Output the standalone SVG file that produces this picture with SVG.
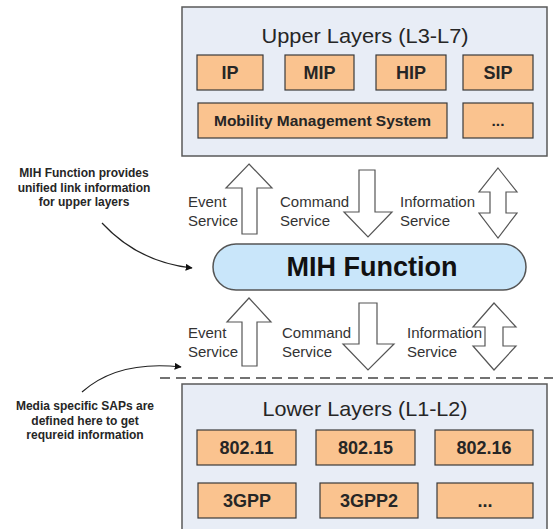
<svg xmlns="http://www.w3.org/2000/svg" width="553" height="529" viewBox="0 0 553 529">
<style>
.layer{fill:#e8edf6;stroke:#595959;stroke-width:1.5}
.blk{fill:#fac38f;stroke:#3a3a3a;stroke-width:1.2}
.bt{font-family:"Liberation Sans",Arial,sans-serif;font-weight:bold;font-size:18px;fill:#262626;text-anchor:middle}
.bts{font-family:"Liberation Sans",Arial,sans-serif;font-weight:bold;font-size:15.5px;fill:#262626;text-anchor:middle}
.title{font-family:"Liberation Sans",Arial,sans-serif;font-size:21px;fill:#262626;text-anchor:middle}
.svc{font-family:"Liberation Sans",Arial,sans-serif;font-size:15px;fill:#333}
.note{font-family:"Liberation Sans",Arial,sans-serif;font-weight:bold;font-size:12px;fill:#262626;text-anchor:middle}
.arr{fill:#fff;stroke:#555;stroke-width:1.2;stroke-linejoin:miter}
.curve{fill:none;stroke:#222;stroke-width:1.2}
</style>
<defs>
<marker id="ah" viewBox="0 0 10 10" refX="9" refY="5" markerWidth="7" markerHeight="7" orient="auto" markerUnits="userSpaceOnUse">
<path d="M0,0 L10,5 L0,10 Z" fill="#111"/>
</marker>
</defs>

<g id="upper-layers">
<rect class="layer" x="182" y="7" width="365" height="149"/>
<text class="title" x="365" y="43" textLength="207" lengthAdjust="spacingAndGlyphs">Upper Layers (L3-L7)</text>
<g id="ip"><rect class="blk" x="197" y="55" width="66" height="35"/><text class="bt" x="230" y="79">IP</text></g>
<g id="mip"><rect class="blk" x="285" y="55" width="69" height="35"/><text class="bt" x="319.5" y="79">MIP</text></g>
<g id="hip"><rect class="blk" x="376" y="55" width="70" height="35"/><text class="bt" x="411" y="79">HIP</text></g>
<g id="sip"><rect class="blk" x="463" y="55" width="70" height="35"/><text class="bt" x="498" y="79">SIP</text></g>
<g id="mms"><rect class="blk" x="198" y="103" width="249" height="35"/><text class="bts" x="322.5" y="126">Mobility Management System</text></g>
<g id="upper-more"><rect class="blk" x="463" y="103" width="70" height="35"/><text class="bts" x="498" y="126">...</text></g>
</g>

<g id="mih-function">
<rect x="213" y="244" width="313" height="46" rx="23" ry="23" fill="#c9e6fa" stroke="#555" stroke-width="1.5"/>
<text x="372" y="276" font-family="'Liberation Sans',Arial,sans-serif" font-weight="bold" font-size="27" fill="#111" text-anchor="middle">MIH Function</text>
</g>

<g id="lower-layers">
<rect class="layer" x="182" y="384" width="365" height="150"/>
<text class="title" x="365" y="416" textLength="205" lengthAdjust="spacingAndGlyphs">Lower Layers (L1-L2)</text>
<g id="n80211"><rect class="blk" x="197" y="430" width="99" height="35"/><text class="bt" x="246.5" y="454">802.11</text></g>
<g id="n80215"><rect class="blk" x="316" y="430" width="99" height="35"/><text class="bt" x="365.5" y="454">802.15</text></g>
<g id="n80216"><rect class="blk" x="435" y="430" width="98" height="35"/><text class="bt" x="484" y="454">802.16</text></g>
<g id="n3gpp"><rect class="blk" x="198" y="483" width="98" height="35"/><text class="bt" x="247" y="507">3GPP</text></g>
<g id="n3gpp2"><rect class="blk" x="320" y="483" width="98" height="35"/><text class="bt" x="369" y="507">3GPP2</text></g>
<g id="lower-more"><rect class="blk" x="437" y="483" width="96" height="35"/><text class="bt" x="485" y="507">...</text></g>
</g>

<g id="note-upper">
<text class="note" x="84" y="177">MIH Function provides</text>
<text class="note" x="84" y="192">unified link information</text>
<text class="note" x="84" y="206">for upper layers</text>
</g>
<g id="note-lower">
<text class="note" x="85" y="410">Media specific SAPs are</text>
<text class="note" x="85" y="425">defined here to get</text>
<text class="note" x="85" y="439">requreid information</text>
</g>

<g id="connectors">
<path class="arr" d="M249,164 L272,188 L257,188 L257,234 L242,234 L242,188 L226,188 Z"/>
<path class="arr" d="M359,170 L375,170 L375,212 L392,212 L368,237 L344,212 L359,212 Z"/>
<path class="arr" d="M498,168 L517,192 L506,192 L506,213 L517,213 L498,238 L479,213 L490,213 L490,192 L479,192 Z"/>
<path class="arr" d="M249,298 L271,322 L257,322 L257,366 L242,366 L242,322 L227,322 Z"/>
<path class="arr" d="M359,303 L377,303 L377,344 L394,344 L368,370 L343,344 L359,344 Z"/>
<path class="arr" d="M494,303 L516,327 L503,327 L503,346 L516,346 L494,370 L473,346 L485,346 L485,327 L473,327 Z"/>
<line x1="160" y1="378" x2="553" y2="378" stroke="#444" stroke-width="1.5" stroke-dasharray="10 6"/>
<path class="curve" d="M102,223 Q138,262 192,268" marker-end="url(#ah)"/>
<path class="curve" d="M82,392 Q118,360 181,367" marker-end="url(#ah)"/>
</g>

<g id="service-labels">
<text class="svc" x="188" y="207">Event</text>
<text class="svc" x="188" y="226">Service</text>
<text class="svc" x="280" y="207">Command</text>
<text class="svc" x="280" y="226">Service</text>
<text class="svc" x="400" y="207">Information</text>
<text class="svc" x="400" y="226">Service</text>
<text class="svc" x="188" y="338">Event</text>
<text class="svc" x="188" y="357">Service</text>
<text class="svc" x="282" y="338">Command</text>
<text class="svc" x="282" y="357">Service</text>
<text class="svc" x="407" y="338">Information</text>
<text class="svc" x="407" y="357">Service</text>
</g>
</svg>
